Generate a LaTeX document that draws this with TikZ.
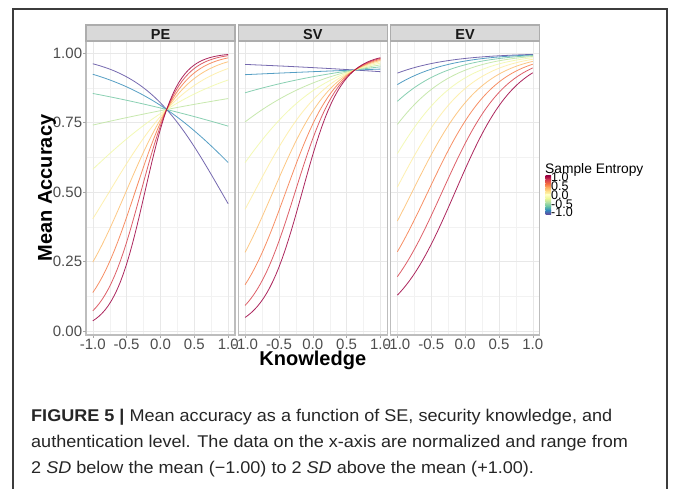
\documentclass[tikz,border=0pt]{standalone}
\usepackage{fontspec}
\setmainfont{Liberation Sans}
\newfontfamily\capfont[FakeStretch=1.062]{Liberation Sans}
\definecolor{sp1}{HTML}{5E4FA2}
\definecolor{sp2}{HTML}{3288BD}
\definecolor{sp3}{HTML}{66C2A5}
\definecolor{sp4}{HTML}{ABDDA4}
\definecolor{sp5}{HTML}{E6F598}
\definecolor{sp6}{HTML}{FFFFBF}
\definecolor{sp7}{HTML}{FEE08B}
\definecolor{sp8}{HTML}{FDAE61}
\definecolor{sp9}{HTML}{F46D43}
\definecolor{sp10}{HTML}{D53E4F}
\definecolor{sp11}{HTML}{9E0142}
% ten entropy levels sampled along the Spectral ramp
\colorlet{se0}{sp1}
\colorlet{se1}{sp2!89!sp3}
\colorlet{se2}{sp3!78!sp4}
\colorlet{se3}{sp4!67!sp5}
\colorlet{se4}{sp5!56!sp6}
\colorlet{se5}{sp6!44!sp7}
\colorlet{se6}{sp7!33!sp8}
\colorlet{se7}{sp8!22!sp9}
\colorlet{se8}{sp9!11!sp10}
\colorlet{se9}{sp11}
\definecolor{axtext}{HTML}{4D4D4D}
\definecolor{framecol}{HTML}{3C3C3C}
\definecolor{stripfill}{HTML}{D9D9D9}
\definecolor{stripline}{HTML}{ADADAD}
\definecolor{panelline}{HTML}{BDBDBD}
\begin{document}
\begin{tikzpicture}[x=1pt,y=-1pt,
  gridmajor/.style={draw=black!9, line width=0.6pt},
  gridminor/.style={draw=black!5, line width=0.45pt},
  panelborder/.style={draw=panelline, line width=1.1pt},
  stripbox/.style={draw=stripline, fill=stripfill, line width=1.1pt},
  striptext/.style={font=\bfseries\fontsize{14.5}{14.5}\selectfont, inner sep=0pt, anchor=base, text=black!90},
  tickmark/.style={draw=black!35, line width=0.6pt},
  xticklab/.style={font=\fontsize{15}{15}\selectfont, text=axtext, inner sep=0pt, anchor=base},
  yticklab/.style={font=\fontsize{15}{15}\selectfont, text=axtext, inner sep=0pt, anchor=east},
  axtitle/.style={font=\bfseries\fontsize{20}{20}\selectfont, inner sep=0pt, anchor=base},
  curve/.style={line width=0.8pt, draw opacity=0.85},
  legtext/.style={font=\fontsize{12.5}{12.5}\selectfont, inner sep=0pt, anchor=west},
  captext/.style={font=\capfont\fontsize{17}{17}\selectfont, text=black!85, inner sep=0pt, anchor=base west},
]
\useasboundingbox[fill=white] (0,0) rectangle (673,488);

% outer frame of the figure
\draw[framecol, line width=1.5pt] (13,492) -- (13,9) -- (667,9) -- (667,492);

% three facets: left edge, label, and logistic coefficients a + bK + (c + dK) SE
\foreach \px/\lab/\pa/\pb/\pc/\pd [count=\n] in
  {86/PE/1.25/1.28/-0.27/2.97,
   238.3/SV/1.72/1.63/-1.17/1.89,
   390.6/EV/2.12/1.80/-1.79/0.44}{
  \pgfmathsetmacro\cx{\px+74.5}
  \pgfmathsetmacro\rx{\px+149}
  % grid
  \foreach \k in {-0.75,-0.25,0.25,0.75}
    \draw[gridminor] ({\cx+67.7*(\k)},41) -- ({\cx+67.7*(\k)},335);
  \foreach \p in {0.125,0.375,0.625,0.875}
    \draw[gridminor] (\px,{331-278*\p}) -- (\rx,{331-278*\p});
  \foreach \k in {-1,-0.5,0,0.5,1}
    \draw[gridmajor] ({\cx+67.7*(\k)},41) -- ({\cx+67.7*(\k)},335);
  \foreach \p in {0,0.25,0.5,0.75,1}
    \draw[gridmajor] (\px,{331-278*\p}) -- (\rx,{331-278*\p});
  % fitted curves, one per entropy level
  \foreach \i in {0,...,9}{
    \pgfmathsetmacro\se{-1+2*\i/9}
    \draw[curve, draw=se\i] plot[domain=-1:1, samples=45]
      ({\cx+67.7*(\x)},{331-278/(1+exp(-((\pa)+(\pb)*(\x)+((\pc)+(\pd)*(\x))*(\se))))});
  }
  % x ticks and labels
  \foreach \k/\t [count=\j] in {-1/-1.0,-0.5/-0.5,0/0.0,0.5/0.5,1/1.0}{
    \draw[tickmark] ({\cx+67.7*(\k)},335) -- ({\cx+67.7*(\k)},337.5);
    \node[xticklab] (xt\n-\j) at ({\cx+67.7*(\k)},349) {\t};
  }
  % panel frame and strip
  \draw[panelborder] (\px,41) rectangle (\rx,335);
  \draw[stripbox] (\px,25) rectangle (\rx,41);
  \node[striptext] (strip\n) at (\cx,39.2) {\lab};
}

% y axis ticks and labels
\foreach \p/\t [count=\j] in {0/0.00,0.25/0.25,0.5/0.50,0.75/0.75,1/1.00}{
  \draw[tickmark] (83,{331-278*\p}) -- (86,{331-278*\p});
  \node[yticklab] (yt\j) at (82.3,{331-278*\p}) {\t};
}

% axis titles
\node[axtitle, rotate=90] (ytitle) at (52,188) {Mean Accuracy};
\node[axtitle] (xtitle) at (312.8,365.5) {Knowledge};

% colour bar legend
\node[font=\fontsize{13.8}{13.8}\selectfont, inner sep=0pt, anchor=base west] (legtitle) at (545,173) {Sample Entropy};
\foreach \k/\ctop/\cbot in {0/sp11/sp10,1/sp10/sp9,2/sp9/sp8,3/sp8/sp7,4/sp7/sp6,
                            5/sp6/sp5,6/sp5/sp4,7/sp4/sp3,8/sp3/sp2,9/sp2/sp1}
  \shade[top color=\ctop, bottom color=\cbot]
    (545.5,{176+3.8*\k-0.05}) rectangle (551,{176+3.8*(\k+1)+0.05});
\foreach \v/\t [count=\j] in {177.5/1.0,186.25/0.5,195/0.0,203.75/-0.5,212.5/-1.0}
  \node[legtext] (leg\j) at (551,\v) {\t};

% caption
\node[captext] (cap1) at (31,421) {\textbf{FIGURE 5 |} Mean accuracy as a function of SE, security knowledge, and};
\node[captext] (cap2) at (31,447) {authentication level. The data on the x-axis are normalized and range from};
\node[captext] (cap3) at (31,473) {2 \textit{SD} below the mean (−1.00) to 2 \textit{SD} above the mean (+1.00).};
\end{tikzpicture}
\end{document}
